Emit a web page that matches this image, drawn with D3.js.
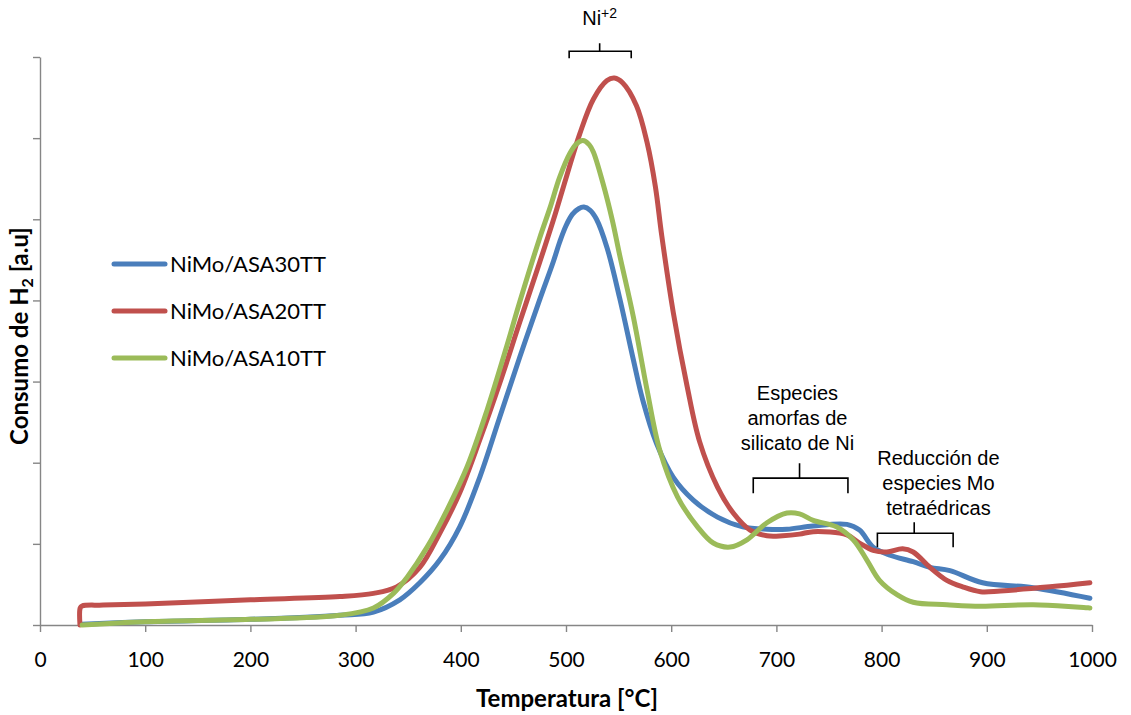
<!DOCTYPE html>
<html>
<head>
<meta charset="utf-8">
<script src="https://cdn.jsdelivr.net/npm/d3@7"></script>
<style>
	body { margin: 0; background: #fff; }
	.axis path, .axis line { stroke: #868686; stroke-width: 1.4; }
	.axis text { font: 21px 'Lato'; fill: #000; }
	.titulo { font: bold 24px 'Lato'; fill: #000; }
	.legend text { font: 22px 'Lato'; fill: #000; }
	.nota { font-family: 'Liberation Sans', Arial, sans-serif; font-size: 20px; fill: #000; }
</style>
</head>
<body>
<svg id="chart" width="1131" height="715"></svg>
<script>
// Temperature ticks [°C]
var temperaturaTicks = [0, 100, 200, 300, 400, 500, 600, 700, 800, 900, 1000];

// Y ticks (arbitrary units, no labels)
var consumoTicks = [0, 1, 2, 3, 4, 5, 6, 7];

// Series names and colors
var series = ["NiMo/ASA30TT", "NiMo/ASA20TT", "NiMo/ASA10TT"];
var colors = ["#4A7EBB", "#C0504D", "#9BBB59"];

// NiMo/ASA30TT [temperature, H2 consumption]
var asa30 = [[40,0.01],[100,0.04],[200,0.07],[285,0.12],[317,0.16],[342,0.31],[361,0.52],[380,0.80],[399,1.21],
	[418,1.82],[437,2.56],[456,3.30],[475,4.01],[488,4.48],[494,4.72],[500,4.92],[506,5.06],[512,5.13],[517,5.15],
	[523,5.11],[529,5.00],[539,4.65],[551,4.03],[564,3.27],[573,2.77],[586,2.24],[602,1.82],[621,1.54],[644,1.33],
	[668,1.21],[691,1.18],[710,1.18],[735,1.22],[767,1.24],[779,1.17],[792,0.96],[808,0.86],[830,0.78],[846,0.71],
	[865,0.67],[896,0.52],[944,0.46],[998,0.33]];

// NiMo/ASA20TT
var asa20 = [[38,0],[38.2,0.21],[40,0.235],[60,0.245],[100,0.26],[200,0.31],[285,0.35],[317,0.39],[339,0.47],[361,0.71],
	[380,1.13],[399,1.63],[418,2.28],[437,2.98],[456,3.73],[475,4.47],[488,4.99],[501,5.55],[513,6.05],[526,6.48],
	[539,6.71],[546,6.74],[554,6.68],[567,6.40],[577,5.95],[585,5.40],[591,4.80],[602,3.85],[615,2.95],[627,2.26],
	[644,1.70],[659,1.38],[675,1.17],[691,1.10],[706,1.10],[722,1.12],[735,1.15],[767,1.11],[779,1.01],[792,0.92],
	[805,0.90],[820,0.94],[830,0.90],[846,0.71],[862,0.55],[877,0.47],[894,0.41],[913,0.42],[960,0.47],[998,0.52]];

// NiMo/ASA10TT
var asa10 = [[40,0.0],[100,0.04],[200,0.07],[285,0.12],[317,0.21],[336,0.39],[349,0.59],[368,0.96],[387,1.42],
	[406,1.95],[425,2.65],[444,3.45],[456,3.98],[475,4.77],[485,5.15],[494,5.52],[504,5.82],[510,5.93],[516,5.97],
	[522,5.92],[526,5.83],[535,5.45],[544,4.99],[551,4.56],[564,3.80],[577,2.90],[589,2.16],[606,1.58],[625,1.21],
	[640,1.01],[656,0.96],[672,1.05],[691,1.26],[710,1.38],[722,1.37],[735,1.29],[757,1.21],[773,1.05],[786,0.80],
	[798,0.55],[815,0.37],[830,0.28],[862,0.25],[894,0.23],[944,0.25],[998,0.21]];

// Annotation labels: text lines, center temperature, baseline value
var notas = [
	{ lines: ["Especies", "amorfas de", "silicato de Ni"], t: 720, v: 2.77 },
	{ lines: ["Reducción de", "especies Mo", "tetraédricas"], t: 854, v: 1.97 }
];

// Brackets: from, to, center, value
var llaves = [
	{ t0: 503, t1: 562, tc: 532, v: 7.07, down: 7, up: 8 },
	{ t0: 678, t1: 768, tc: 722, v: 1.81, down: 15, up: 15 },
	{ t0: 796, t1: 868, tc: 831, v: 1.13, down: 14, up: 11 }
];

var svg = d3.select("#chart");
var margin = { top: 57, right: 39, bottom: 90, left: 40 };
var width = +svg.attr("width") - margin.left - margin.right,
	height = +svg.attr("height") - margin.top - margin.bottom;

svg.append("rect").attr("width", 1131).attr("height", 715).attr("fill", "#fff");

var g = svg.append("g").attr("transform", "translate(" + margin.left + "," + margin.top + ")");

var x = d3.scaleLinear().domain([0, 1000]).range([0, width]);
var y = d3.scaleLinear().domain([0, 7]).range([height, 0]);

// Y Axis
g.append("g")
	.attr("class", "axis axis--y")
	.call(d3.axisLeft(y).tickValues(consumoTicks).tickSize(7).tickSizeOuter(0).tickFormat(""));

// X Axis
g.append("g")
	.attr("class", "axis axis--x")
	.attr("transform", "translate(0," + height + ")")
	.call(d3.axisBottom(x).tickValues(temperaturaTicks).tickSize(7).tickSizeOuter(0).tickPadding(20).tickFormat(d3.format("d")));

// Lines
var line = d3.line()
	.curve(d3.curveCatmullRom.alpha(0.5))
	.x(function(d) { return x(d[0]); })
	.y(function(d) { return y(d[1]); });

[asa30, asa20, asa10].forEach(function(data, i) {
	g.append("path")
		.datum(data)
		.attr("fill", "none")
		.attr("stroke", colors[i])
		.attr("stroke-width", 5)
		.attr("stroke-linecap", "round")
		.attr("stroke-linejoin", "round")
		.attr("d", line);
});

// Brackets
g.selectAll(".llave")
	.data(llaves)
	.enter().append("path")
		.attr("class", "llave")
		.attr("fill", "none")
		.attr("stroke", "#000")
		.attr("stroke-width", 1.6)
		.attr("d", function(d) {
			var yy = y(d.v);
			return "M" + x(d.t0) + "," + (yy + d.down) + "V" + yy + "H" + x(d.t1) + "V" + (yy + d.down) +
				"M" + x(d.tc) + "," + yy + "V" + (yy - d.up);
		});

// Ni+2 label
var ni = g.append("text")
	.attr("class", "nota")
	.attr("x", x(532))
	.attr("y", y(7.39))
	.attr("text-anchor", "middle");
ni.append("tspan").text("Ni");
ni.append("tspan").attr("dy", -7).style("font-size", "14px").text("+2");

// Annotation texts
notas.forEach(function(n) {
	var t = g.append("text")
		.attr("class", "nota")
		.attr("text-anchor", "middle")
		.attr("x", x(n.t))
		.attr("y", y(n.v));
	n.lines.forEach(function(l, i) {
		t.append("tspan").attr("x", x(n.t)).attr("dy", i ? 25 : 0).text(l);
	});
});

// Axis titles
svg.append("text")
	.attr("class", "titulo")
	.attr("x", 567)
	.attr("y", 707)
	.attr("text-anchor", "middle")
	.text("Temperatura [°C]");

var yt = svg.append("text")
	.attr("class", "titulo")
	.attr("text-anchor", "middle")
	.attr("transform", "translate(28,336) rotate(-90)");
yt.append("tspan").text("Consumo de H");
yt.append("tspan").attr("dy", 5).style("font-size", "16px").text("2");
yt.append("tspan").attr("dy", -5).text(" [a.u]");

// Legend
var legend = svg.selectAll(".legend")
	.data(series)
	.enter().append("g")
		.attr("class", "legend")
		.attr("transform", function(d, i) { return "translate(0," + (264 + i * 47) + ")"; });

legend.append("line")
	.attr("x1", 114)
	.attr("x2", 165)
	.attr("stroke", function(d, i) { return colors[i]; })
	.attr("stroke-width", 5)
	.attr("stroke-linecap", "round");

legend.append("text")
	.attr("x", 170)
	.attr("dy", ".35em")
	.text(function(d) { return d; });
</script>
</body>
</html>
